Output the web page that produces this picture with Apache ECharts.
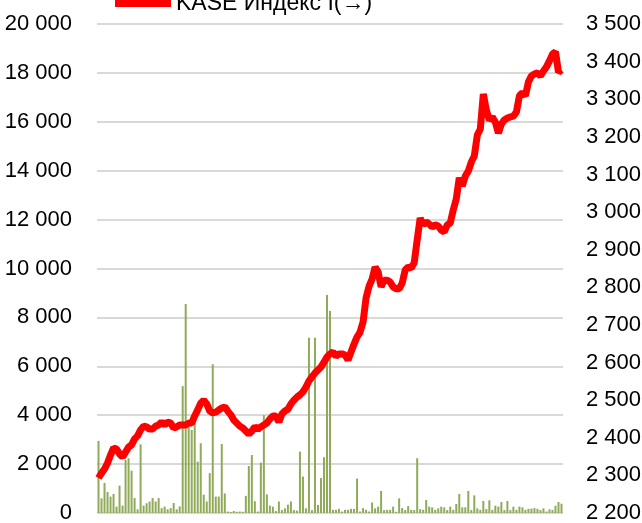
<!DOCTYPE html>
<html>
<head>
<meta charset="utf-8">
<title>KASE</title>
<script src="https://cdn.jsdelivr.net/npm/echarts@6/dist/echarts.min.js"></script>
<style>
  html, body { margin: 0; padding: 0; background: #fff; }
  #chart { width: 642px; height: 523px; }
</style>
</head>
<body>
<div id="chart"></div>
<script>
// объем торгов (левая ось)
const volumeValues = [
  2950, 600, 1230, 860, 670, 780, 260, 1120, 300, 2170,
  2240, 1730, 610, 150, 2810, 300, 400, 470, 610, 470,
  610, 200, 260, 150, 200, 410, 150, 270, 5190, 8550,
  3500, 3400, 4140, 2100, 2850, 750, 470, 1630, 6080, 670,
  670, 2820, 800, 60, 40, 80, 50, 60, 50, 700,
  1920, 2370, 480, 60, 2060, 4000, 760, 300, 260, 80,
  470, 120, 190, 340, 470, 120, 100, 2510, 1490, 190,
  7170, 120, 7170, 330, 1430, 2280, 8920, 8260, 130, 130,
  170, 60, 130, 130, 170, 170, 1410, 60, 200, 130,
  60, 430, 190, 260, 900, 120, 130, 130, 260, 50,
  600, 200, 120, 280, 130, 120, 2240, 160, 130, 530,
  260, 230, 130, 190, 260, 230, 120, 260, 130, 370,
  780, 230, 230, 900, 120, 720, 190, 130, 490, 160,
  520, 130, 300, 260, 450, 120, 490, 120, 260, 130,
  260, 230, 130, 170, 180, 200, 170, 120, 190, 60,
  150, 130, 300, 450, 380
]

// KASE индекс (правая ось)
const kaseValues = [
  2293, 2306, 2317, 2333, 2354, 2373, 2370, 2357, 2349, 2362,
  2375, 2381, 2397, 2405, 2421, 2431, 2429, 2423, 2423, 2431,
  2434, 2442, 2434, 2442, 2439, 2426, 2429, 2434, 2434, 2434,
  2439, 2439, 2458, 2474, 2492, 2500, 2490, 2471, 2466, 2468,
  2474, 2479, 2482, 2471, 2461, 2447, 2439, 2431, 2426, 2418,
  2410, 2418, 2429, 2423, 2429, 2434, 2439, 2450, 2458, 2458,
  2442, 2463, 2471, 2476, 2490, 2500, 2508, 2514, 2522, 2535,
  2551, 2562, 2572, 2580, 2588, 2601, 2615, 2623, 2628, 2617,
  2623, 2623, 2620, 2607, 2628, 2649, 2668, 2681, 2708, 2772,
  2803, 2822, 2854, 2841, 2801, 2819, 2819, 2814, 2801, 2796,
  2796, 2811, 2846, 2854, 2851, 2865, 2926, 2984, 2966, 2974,
  2968, 2960, 2966, 2963, 2952, 2947, 2966, 2971, 3006, 3035,
  3091, 3069, 3096, 3109, 3133, 3149, 3205, 3221, 3314, 3271,
  3245, 3253, 3239, 3210, 3234, 3245, 3250, 3253, 3255, 3266,
  3309, 3317, 3309, 3346, 3362, 3367, 3370, 3362, 3375, 3386,
  3402, 3420, 3426, 3372, 3378
]

const days = volumeValues.map((v, i) => String(i + 1))

const legendName = 'KASE Индекс I(→)'
const labelFont = 'Liberation Sans, Arial, sans-serif'

// 20000 -> "20 000"
const fmt = (v) => String(v).replace(/\B(?=(\d{3})+(?!\d))/g, ' ')

const myChart = echarts.init(document.getElementById('chart'), null, { renderer: 'canvas' })

const option = {
  animation: false,
  backgroundColor: '#fff',
  grid: {
    left: 97,
    right: 79,
    top: 24,
    bottom: 10,
    outerBoundsMode: 'none'
  },
  legend: {
    data: [legendName],
    left: 110,
    top: -13,
    icon: 'rect',
    itemWidth: 56,
    itemHeight: 7,
    itemGap: 5,
    textStyle: {
      fontFamily: labelFont,
      fontSize: 23,
      color: '#000'
    }
  },
  xAxis: {
    type: 'category',
    data: days,
    boundaryGap: true,
    axisLine: { show: false },
    axisTick: { show: false },
    axisLabel: { show: false }
  },
  yAxis: [
    {
      type: 'value',
      min: 0,
      max: 20000,
      interval: 2000,
      axisLine: { show: false },
      axisTick: { show: false },
      axisLabel: {
        margin: 25,
        fontFamily: labelFont,
        fontSize: 22,
        color: '#000',
        formatter: fmt
      },
      splitLine: {
        lineStyle: { color: '#d9d9d9', width: 2 }
      }
    },
    {
      type: 'value',
      min: 2200,
      max: 3500,
      interval: 100,
      position: 'right',
      axisLine: { show: false },
      axisTick: { show: false },
      splitLine: { show: false },
      axisLabel: {
        margin: 23,
        fontFamily: labelFont,
        fontSize: 22,
        color: '#000',
        formatter: fmt
      }
    }
  ],
  series: [
    {
      name: 'Объем',
      type: 'bar',
      yAxisIndex: 0,
      data: volumeValues,
      barWidth: 2,
      itemStyle: {
        color: '#8faa58'
      },
      z: 1
    },
    {
      name: legendName,
      type: 'line',
      yAxisIndex: 1,
      data: kaseValues,
      symbol: 'none',
      lineStyle: { color: '#ff0000', width: 7 },
      itemStyle: { color: '#ff0000' },
      z: 5
    }
  ]
}

myChart.setOption(option)
</script>
</body>
</html>
